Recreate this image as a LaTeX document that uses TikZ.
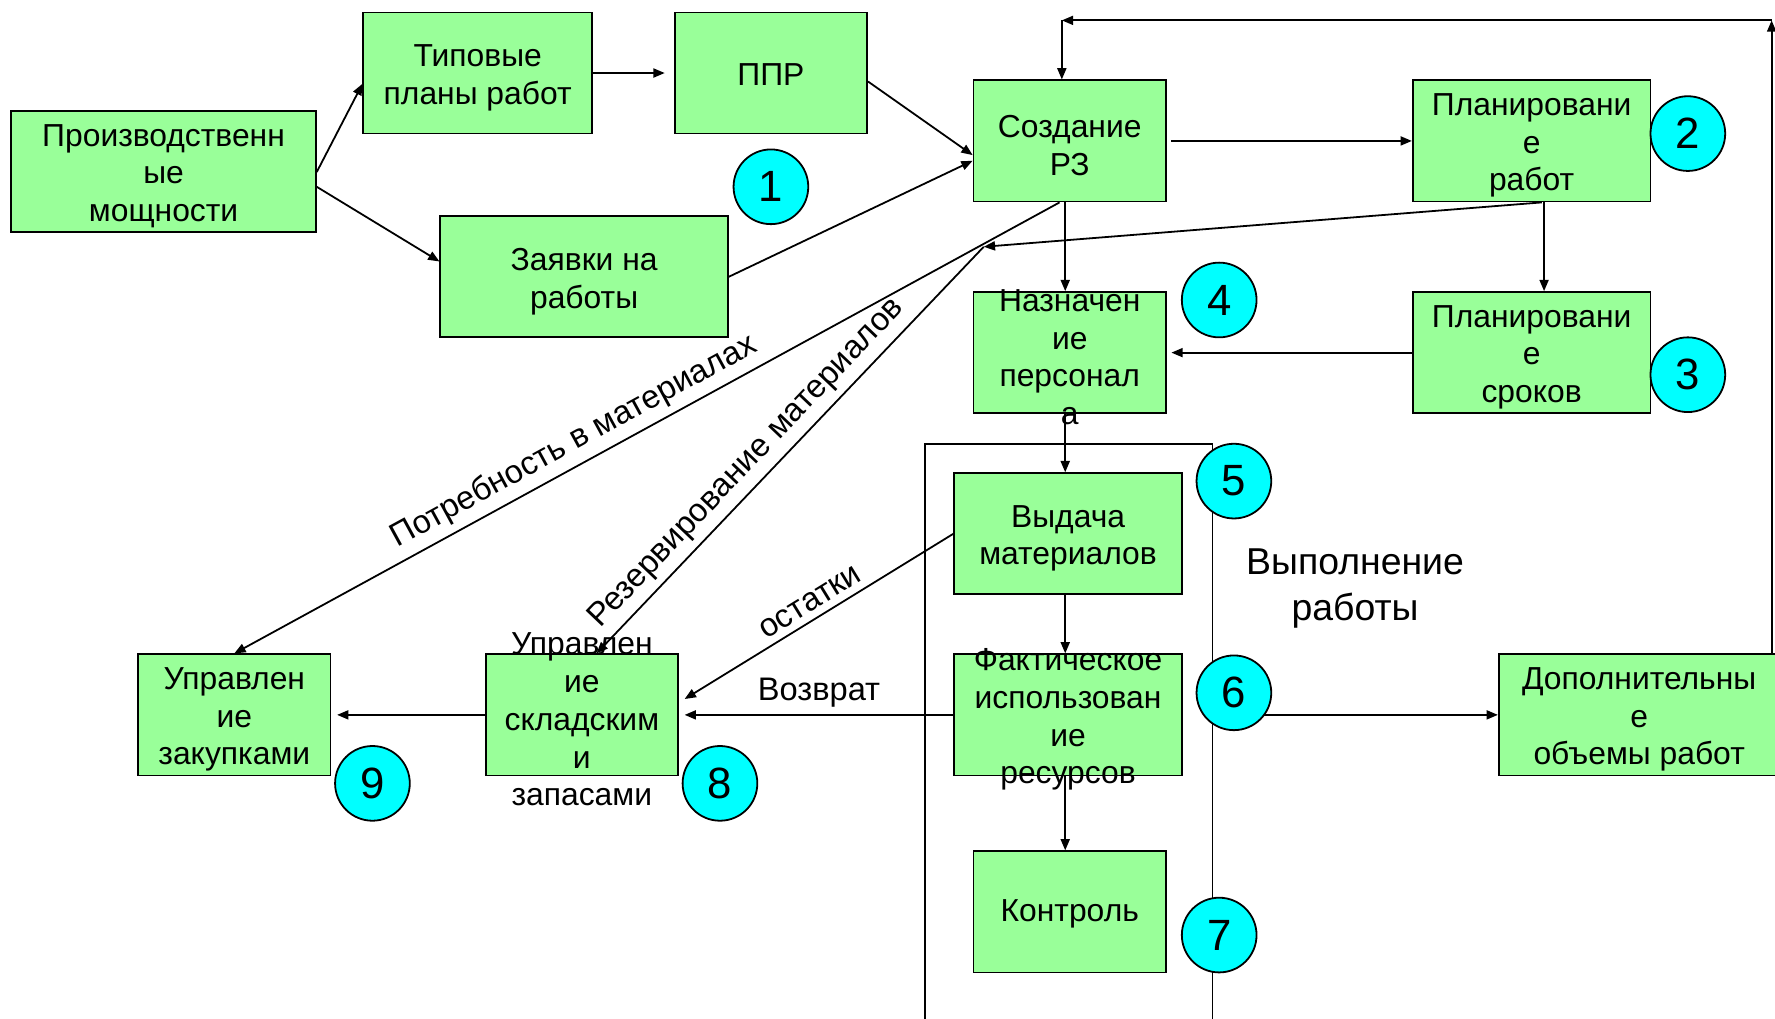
\documentclass[tikz,border=0pt]{standalone}
\usepackage{fontspec}
\setmainfont{Liberation Sans}
\usepackage{xcolor}
\usetikzlibrary{arrows.meta}
\definecolor{zelen}{RGB}{153,255,153}
\definecolor{goluboj}{RGB}{0,255,255}

\begin{document}
\begin{tikzpicture}[x=0.2mm, y=-0.2mm, line width=0.9pt,
    >={Triangle[length=2mm,width=1.6mm]},
    blok/.style={draw, fill=zelen, minimum height=21.4mm, inner sep=0pt},
    txt/.style={align=center, yshift=-0.8mm, font=\fontsize{16}{19}\selectfont},
    nomer/.style={draw, fill=goluboj, circle, minimum size=13.2mm, inner sep=0pt, font=\fontsize{22}{26}\selectfont},
    podp/.style={font=\fontsize{16.4}{19}\selectfont}]
             \useasboundingbox (0,0) rectangle (1568,900);

             \node[blok, minimum width=53.8mm, label={[txt]center:Производственн\\ые\\мощности}] (proizv) at (144.5,151.5) {};
             \node[blok, minimum width=40.4mm, label={[txt]center:Типовые\\планы работ}] (tipovye) at (422,64.5) {};
             \node[blok, minimum width=34mm, label={[txt, yshift=0.6mm]center:ППР}] (ppr) at (681,64.5) {};
             \node[blok, minimum width=50.8mm, label={[txt]center:Заявки на\\работы}] (zayavki) at (516,244.5) {};
             \node[blok, minimum width=34mm, label={[txt]center:Создание\\РЗ}] (sozdanie) at (945,124.5) {};
             \node[blok, minimum width=42mm, label={[txt]center:Планировани\\е\\работ}] (planrab) at (1353,124.5) {};
             \node[blok, minimum width=34mm, label={[txt]center:Назначен\\ие\\персонал\\а}] (naznach) at (945,311.5) {};
             \node[blok, minimum width=42mm, label={[txt]center:Планировани\\е\\сроков}] (plansrok) at (1353,311.5) {};

             \draw (817,900) -- (817,392) -- (1071,392) -- (1071,900);
             \node[align=center, font=\fontsize{18.8}{22.8}\selectfont] (vypoln) at (1197,520) {Выполнение\\работы};

             \node[blok, minimum width=40.2mm, label={[txt]center:Выдача\\материалов}] (vydacha) at (943.5,471.5) {};
             \node[blok, minimum width=40.2mm, label={[txt]center:Фактическое\\использован\\ие\\ресурсов}] (fakt) at (943.5,631.5) {};
             \node[blok, minimum width=34mm, label={[txt, yshift=0.4mm]center:Контроль}] (kontrol) at (945,805.5) {};
             \node[blok, minimum width=49.6mm, label={[txt]center:Дополнительны\\е\\объемы работ}] (dopoln) at (1448,631.5) {};
             \node[blok, minimum width=34mm, label={[txt]center:Управлен\\ие\\складским\\и\\запасами}] (sklad) at (514,631.5) {};
             \node[blok, minimum width=34mm, label={[txt]center:Управлен\\ие\\закупками}] (zakup) at (207,631.5) {};

             \coordinate (rez) at (869,218);
             \coordinate (ugol) at (1565,18);
             \coordinate (verh) at (938,18);

             \draw[->] ([yshift=-0.1mm]proizv.east) -- ([yshift=-1.9mm]tipovye.west);
             \draw[->] ([yshift=-2.7mm]proizv.east) -- ([yshift=2.7mm]zayavki.west);
             \draw[->, shorten >=1.6mm] (tipovye.east) -- (ppr.west);
             \draw[->] ([yshift=-1.5mm]ppr.east) -- ([yshift=-2.5mm]sozdanie.west);
             \draw[->] (zayavki.east) -- ([yshift=-3.5mm]sozdanie.west);
             \draw[->] ([xshift=0.8mm]sozdanie.east) -- (planrab.west);
             \draw[->] ([xshift=2.2mm]planrab.south) -- ([xshift=2.2mm]plansrok.north);
             \draw[->] (plansrok.west) -- ([xshift=0.8mm]naznach.east);
             \draw[->] ([xshift=-0.8mm]sozdanie.south) -- ([xshift=-0.8mm]naznach.north);
             \draw[->] ([xshift=-0.8mm]naznach.south) -- ([xshift=-0.8mm]naznach.south |- vydacha.north);
             \draw[->] ([xshift=-0.5mm]vydacha.south) -- ([xshift=-0.5mm]fakt.north);
             \draw[->] ([xshift=-0.5mm]fakt.south) -- ([xshift=-0.5mm]fakt.south |- kontrol.north);
             \draw[->] (fakt.west) -- node[above, podp] {Возврат} ([xshift=1mm]sklad.east);
             \draw[<-] ([xshift=1mm,yshift=2.8mm]sklad.east) -- node[sloped, above, podp] {остатки} (vydacha.west);
             \draw[->] (sklad.west) -- ([xshift=1mm]zakup.east);
             \draw[<-] (zakup.north) -- node[sloped, above, pos=.425, podp] {Потребность в материалах} ([xshift=-1.8mm]sozdanie.south);
             \draw[->] ([xshift=1.8mm]planrab.south) -- (rez);
             \draw[<-] ([xshift=2.6mm]sklad.north) -- node[sloped, above, pos=.43, podp] {Резервирование материалов} (rez);
             \draw[->] (dopoln.north -| ugol) -- (ugol);
             \draw[->] (ugol) -- (verh);
             \draw[->] (verh) -- (verh |- sozdanie.north);
             \draw[->] (1090,631.5) -- (dopoln.west);

             \node[nomer] (n1) at (681,165) {1};
             \node[nomer] (n2) at (1491,118) {2};
             \node[nomer] (n3) at (1491,331) {3};
             \node[nomer] (n4) at (1077,265) {4};
             \node[nomer] (n5) at (1090,425) {5};
             \node[nomer] (n6) at (1090,612) {6};
             \node[nomer] (n7) at (1077,826) {7};
             \node[nomer] (n8) at (636,692) {8};
             \node[nomer] (n9) at (329,692) {9};
\end{tikzpicture}
\end{document}
